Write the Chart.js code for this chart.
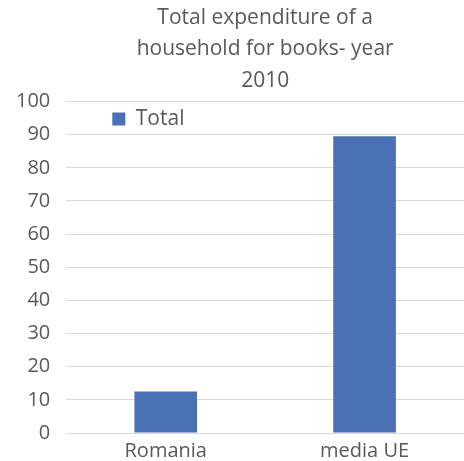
<!DOCTYPE html>
<html>
<head>
<meta charset="utf-8">
<script src="https://cdn.jsdelivr.net/npm/chart.js@4.4.1/dist/chart.umd.min.js"></script>
<style>
  html, body { margin: 0; padding: 0; background: #fff; }
  #wrap { width: 464px; height: 461px; }
</style>
</head>
<body>
<div id="wrap"><canvas id="bookChart"></canvas></div>
<script>
var categories = ['Romania', 'media UE'];
var totals = [12.5, 89.5];
var seriesName = 'Total';
var titleLines = ['Total expenditure of a', 'household for books- year', '2010'];

var textColor = '#595959';
var fontFamily = "'Open Sans', 'Liberation Sans', sans-serif";

// put the legend inside the plot, near the top left corner
var legendShift = {
  id: 'legendShift',
  afterLayout: function(chart) {
    var lg = chart.legend;
    var area = chart.chartArea;
    if (lg && area) {
      var w = lg.width;
      lg.left = area.left + 36;
      lg.right = lg.left + w;
      lg.top = area.top - 3;
      lg.bottom = lg.top + lg.height;
    }
  }
};

new Chart(document.getElementById('bookChart'), {
  type: 'bar',
  data: {
    labels: categories,
    datasets: [{
      label: seriesName,
      data: totals,
      backgroundColor: '#4A70B6',
      categoryPercentage: 0.63,
      barPercentage: 0.5
    }]
  },
  options: {
    responsive: true,
    maintainAspectRatio: false,
    animation: false,
    layout: { padding: { top: 2, right: 0, bottom: 0, left: 0 } },
    plugins: {
      title: {
        display: true,
        text: titleLines,
        fullSize: false,
        color: textColor,
        font: { family: fontFamily, size: 21, weight: 'normal', lineHeight: 1.5 },
        padding: { top: 0, bottom: 5 }
      },
      legend: {
        position: 'chartArea',
        align: 'start',
        labels: {
          color: textColor,
          boxWidth: 13,
          boxHeight: 13,
          font: { family: fontFamily, size: 21 }
        }
      },
      tooltip: { enabled: false }
    },
    scales: {
      x: {
        grid: { display: false },
        border: { color: '#d9d9d9', width: 1 },
        ticks: { color: textColor, font: { family: fontFamily, size: 20, lineHeight: 1.0 }, padding: 0 }
      },
      y: {
        min: 0,
        max: 100,
        ticks: { stepSize: 10, color: textColor, font: { family: fontFamily, size: 20 }, padding: 16 },
        grid: { color: '#d9d9d9', lineWidth: 1, drawTicks: false },
        border: { display: false }
      }
    }
  },
  plugins: [legendShift]
});
</script>
</body>
</html>
